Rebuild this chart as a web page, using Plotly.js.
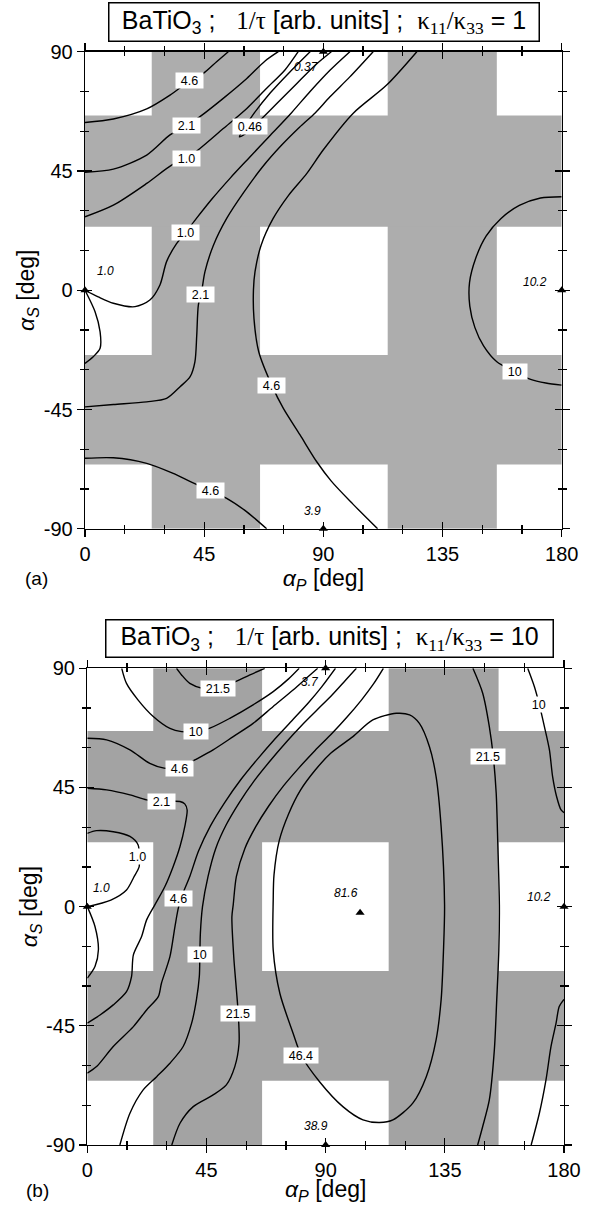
<!DOCTYPE html>
<html><head><meta charset="utf-8">
<script src="https://cdn.plot.ly/plotly-3.0.1.min.js"></script>
<style>html,body{margin:0;padding:0;background:#fff}</style>
</head><body><div id="chart" style="width:594px;height:1205px"></div>
<script>
// ---------- axis ticks ----------
const xTickVals = [0, 45, 90, 135, 180];
const xTickText = ['0', '45', '90', '135', '180'];
const yTickVals = [-90, -45, 0, 45, 90];
const yTickText = ['-90', '-45', '0', '45', '90'];
const xMinor = [15, 30, 60, 75, 105, 120, 150, 165];
const yMinor = [-75, -60, -30, -15, 15, 30, 60, 75];

// ---------- shaded bands [from, to] in degrees ----------
const aGrayCols = [[25.2, 66.1], [114.3, 155.5]];
const aGrayRows = [[-65.7, -24.4], [24.0, 65.9]];
const bGrayCols = [[24.9, 66.0], [113.8, 155.3]];
const bGrayRows = [[-65.7, -24.3], [24.3, 66.3]];

// ---------- panel (a) contour lines [alphaP, alphaS] ----------
const a_46_ul = [[0,63.3],[10.7,64.6],[23.3,68.4],[32.1,73.6],[39.5,79],[44.7,81.8],[49.7,86.2],[54.1,90]];
const a_21_ul = [[0,44.5],[10.7,45.7],[23.3,51],[32.1,58.6],[38.3,62],[43.4,65.5],[52.2,72.4],[61.1,79.9],[68,86.5],[73,90]];
const a_10_ul = [[0,27.7],[10.7,32.1],[23.3,40.3],[32.7,47.2],[38.2,49.7],[43.4,53.5],[52.2,61],[61.1,68.6],[68.6,76.2],[75.5,83.1],[80.5,90]];
const a_046 = [[85,90],[77,82],[70,74.5],[64,67],[60,61],[58.3,57.9],[60.5,59],[66,64],[73,71],[80,78],[87,85],[93,90]];
const a_10_r = [[0,0],[5,-2.5],[10.7,-4.9],[18.9,-6.2],[24.5,-3.7],[28.3,2],[30.8,10.8],[34.5,17.5],[38,21.8],[42,27],[48,34.5],[55,42.5],[62,50],[70,58.5],[78,67],[85,75],[92.5,83],[100,90]];
const a_10_loop = [[0,0],[3.8,-8.1],[5.7,-15.7],[5.7,-21.9],[3.1,-25.1],[0,-27.6]];
const a_21_r = [[0,-44],[10.7,-43.1],[23.3,-42.1],[30.8,-40.8],[35.9,-36.4],[39.7,-32.6],[41.5,-27],[42.2,-16.9],[42.8,-5.6],[44.1,0],[45.3,7],[48.5,17],[53.5,27.1],[60,37],[67,46.5],[74,54.5],[81,61.5],[87,67],[92.5,73],[100,80.5],[108.8,90]];
const a_46_r = [[125.3,90],[113.9,77.4],[101.3,66.8],[90,53],[83.7,44],[77,36],[71,27],[66.5,17],[64.2,7],[63.6,0],[63.8,-10.6],[65.6,-23.2],[70.5,-35.8],[74.9,-44.6],[81.2,-54.6],[87.5,-64.7],[93,-72],[101,-80.5],[110.5,-90]];
const a_46_ll = [[0,-63.4],[10.7,-63.2],[23.3,-65.3],[33.3,-69.1],[40,-72.3],[47.5,-75.7],[53.5,-78.5],[61.1,-83.6],[68.6,-90]];
const a_100 = [[180,35.3],[172,34.8],[164,32],[157,27],[151.5,20.5],[147.5,12],[145.2,3],[145.3,-6],[147.2,-14],[150.5,-21],[155.5,-27],[162.3,-30.8],[168,-33.5],[174,-35],[180,-35.8]];

// contour labels panel (a)
const aLabelText = ['4.6', '2.1', '1.0', '0.46', '1.0', '2.1', '4.6', '4.6', '10'];
const aLabelX    = [39.5, 38.3, 38.2, 62.2, 38.0, 43.5, 70.5, 47.5, 162.3];
const aLabelY    = [79.0, 62.0, 49.7, 61.9, 21.8, -1.5, -35.8, -75.7, -30.8];
// extremum values panel (a)
const aExtText = ['0.37', '1.0', '10.2', '3.9'];
const aExtX    = [83.7, 7.6, 169.9, 85.8];
const aExtY    = [84.3, 7.2, 3.2, -83.2];
const aMarkX   = [90, 0, 180, 90];
const aMarkY   = [90, 0, 0, -90];

// ---------- panel (b) contour lines ----------
const b_215_arc = [[33.7,90],[35.6,87.5],[38.7,84.3],[44,82.3],[49.5,82.5],[54.5,84.3],[61.4,87.5],[67,90]];
const b_100_ul = [[13,90],[14.8,84.3],[19.2,78],[24.9,71.8],[31.2,67.3],[35.6,66.1],[41,66.1],[46.3,67.4],[53.8,71.1],[62.6,76.2],[70.2,81.2],[76,86],[80,90]];
const b_46_ul = [[0,63.6],[7.3,63],[16.1,59.2],[23.6,54.1],[29,52.3],[34.7,52.3],[40.6,55.4],[47.5,59.2],[55.1,64.2],[62.6,69.2],[70.1,75.5],[77.7,81.8],[83,86.5],[87,90]];
const b_21 = [[0,44.7],[7.3,44.1],[16.1,42.2],[22.4,40.3],[28,39.7],[35,39.7],[36.8,38.8],[37.7,36.5],[36.8,30.2],[35,22.7],[32.4,15.1],[29.3,7.6],[25.5,0.7],[22.4,-5],[20.5,-11.3],[17.4,-18.2],[16.7,-26.4],[14.8,-32.1],[9.8,-37.1],[4.8,-40.9],[0,-44]];
const b_10_o = [[0,27.7],[3.5,28.7],[9.8,28.3],[16.1,26.5],[19.2,23.3],[19.6,18],[19.6,15.1],[17.5,11],[14.8,6.3],[8.9,2.5],[0,0]];
const b_10_loop = [[0,0],[2.9,-7.5],[4.2,-16.3],[2.9,-22.6],[0,-27]];
const b_46_lr = [[0,-62.9],[3.5,-60.4],[9.8,-52.8],[17.4,-45.3],[22.4,-39],[26.8,-34],[28,-28.9],[31.2,-18.9],[33.1,-7.5],[34.5,0],[36.5,6],[38.7,11.4],[42,21],[46.5,30.5],[52,39.5],[58,48],[64.5,56],[71,63.5],[77.5,70.5],[83.5,77],[88.5,83],[93.7,90]];
const b_100_lr = [[12.3,-90],[16.1,-78],[21.1,-69.2],[26.2,-64.2],[31.2,-59.1],[36.2,-52.8],[39.4,-44],[41.2,-35.2],[42.3,-26.4],[42.5,-18.2],[42.7,-10],[43.5,0],[45.6,11.4],[48.5,22],[52.5,31],[57.5,39.5],[63,47.5],[69,55],[75,62],[81,68.5],[87,74.5],[92.5,80],[97.5,85.5],[101.6,90]];
const b_215_lr = [[31.9,-90],[35,-81.8],[40,-75.5],[47.5,-71.1],[52.5,-67.3],[55.7,-60.4],[57.3,-51.6],[57,-40.5],[56.3,-31.4],[55.3,-18.9],[54.6,-3.8],[55.1,0.7],[56.3,11.4],[59.5,22],[63.5,30],[68.5,38],[74,45.5],[80,52.5],[86,59],[92,65],[98,71.5],[103.5,78],[108,84],[111.8,90]];
const b_464 = [[70.2,2.5],[70.5,12],[72.5,25],[76,35],[80.5,44],[86,51.5],[92,58],[100.3,64.2],[107.8,70.5],[116.7,73],[121.7,72.4],[125.4,69.2],[129.2,60.4],[131.7,49.1],[133.6,30.2],[134.9,0.7],[134.5,-16.4],[133.6,-35.2],[131.7,-50.3],[128,-64.2],[122.9,-74.2],[115.4,-80.5],[110.4,-81.5],[104.1,-80.5],[96.5,-75.5],[87.7,-66.1],[80.8,-56.2],[77.7,-47.8],[72.7,-32.7],[70.2,-16.4],[70.2,2.5]];
const b_215_r = [[145.6,90],[149.3,80.6],[151.8,68],[153.3,56.7],[154.4,42.8],[155,23.9],[155.6,0.7],[155.4,-16.4],[154.6,-35.2],[153.7,-54.1],[151.8,-73],[149.3,-83],[147.4,-90]];
const b_100_rt = [[166.3,90],[168.8,83.1],[170.7,76.2],[172.6,68],[174.5,59.2],[175.7,49.1],[177.2,41.6],[178.9,36.5],[180,35.5]];
const b_100_rb = [[167.6,-90],[170.7,-78],[173.2,-65.4],[175.1,-52.8],[177,-44],[178.2,-37.7],[180,-35]];

const bLabelText = ['21.5', '10', '4.6', '2.1', '1.0', '4.6', '10', '21.5', '46.4', '21.5', '10'];
const bLabelX    = [49.5, 41.0, 34.7, 28.1, 18.9, 34.5, 42.5, 57.0, 80.8, 151.2, 170.7];
const bLabelY    = [82.5, 66.1, 52.3, 39.7, 18.9, 3.2, -18.2, -40.5, -56.2, 56.7, 76.2];
const bExtText = ['3.7', '1.0', '81.6', '10.2', '38.9'];
const bExtX    = [84.0, 5.4, 97.8, 170.7, 86.5];
const bExtY    = [85.0, 7.0, 5.0, 3.8, -83.0];
const bMarkX   = [90, 0, 180, 90, 103];
const bMarkY   = [90, 0, 0, -90, -2.3];

// ---------- build ----------
const FONT = 'Liberation Sans, Arial, Helvetica, sans-serif';
const SERIF = 'Liberation Serif, Times New Roman, serif';
const traces = [];
function addLine(pts, xa, ya) {
  traces.push({x: pts.map(p => p[0]), y: pts.map(p => p[1]), xaxis: xa, yaxis: ya,
    mode: 'lines', line: {color: '#000', width: 1.4, shape: 'spline', smoothing: 0.8},
    hoverinfo: 'skip', showlegend: false});
}
[a_46_ul, a_21_ul, a_10_ul, a_046, a_10_r, a_10_loop, a_21_r, a_46_r, a_46_ll, a_100].forEach(p => addLine(p, 'x', 'y'));
[b_215_arc, b_100_ul, b_46_ul, b_21, b_10_o, b_10_loop, b_46_lr, b_100_lr, b_215_lr, b_464, b_215_r, b_100_rt, b_100_rb].forEach(p => addLine(p, 'x2', 'y2'));
traces.push({x: aMarkX, y: aMarkY, xaxis: 'x', yaxis: 'y', mode: 'markers', cliponaxis: false,
  marker: {symbol: 'triangle-up', size: 8, color: '#000'}, hoverinfo: 'skip', showlegend: false});
traces.push({x: bMarkX, y: bMarkY, xaxis: 'x2', yaxis: 'y2', mode: 'markers', cliponaxis: false,
  marker: {symbol: 'triangle-up', size: 8, color: '#000'}, hoverinfo: 'skip', showlegend: false});
// overlay axes carry the inward half of the crossing ticks
traces.push({x: [null], y: [null], xaxis: 'x3', yaxis: 'y3', mode: 'markers', showlegend: false, hoverinfo: 'skip'});
traces.push({x: [null], y: [null], xaxis: 'x4', yaxis: 'y4', mode: 'markers', showlegend: false, hoverinfo: 'skip'});

const shapes = [];
function addBands(cols, rows, xr, yr, color) {
  cols.forEach(c => shapes.push({type: 'rect', xref: xr, yref: yr, x0: c[0], x1: c[1], y0: -90, y1: 90,
    fillcolor: color, line: {width: 0}, layer: 'below'}));
  rows.forEach(r => shapes.push({type: 'rect', xref: xr, yref: yr, x0: 0, x1: 180, y0: r[0], y1: r[1],
    fillcolor: color, line: {width: 0}, layer: 'below'}));
}
addBands(aGrayCols, aGrayRows, 'x', 'y', '#adadad');
addBands(bGrayCols, bGrayRows, 'x2', 'y2', '#a3a3a3');

const annotations = [];
function boxWidth(t) { let w = 10; for (const ch of t) w += (ch === '.') ? 3.4 : 6.8; return w; }
function addLabels(txt, xs, ys, xr, yr) {
  txt.forEach((t, i) => annotations.push({x: xs[i], y: ys[i], xref: xr, yref: yr, text: t, showarrow: false,
    xanchor: 'center', yanchor: 'middle',
    bgcolor: '#fff', borderpad: 0, width: boxWidth(t), height: 15, font: {family: FONT, size: 12.5, color: '#000'}}));
}
function addExt(txt, xs, ys, xr, yr) {
  txt.forEach((t, i) => annotations.push({x: xs[i], y: ys[i], xref: xr, yref: yr, text: '<i>' + t + '</i>',
    xanchor: 'center', yanchor: 'middle',
    showarrow: false, font: {family: FONT, size: 12, color: '#000'}}));
}
addLabels(aLabelText, aLabelX, aLabelY, 'x', 'y');
addLabels(bLabelText, bLabelX, bLabelY, 'x2', 'y2');
addExt(aExtText, aExtX, aExtY, 'x', 'y');
addExt(bExtText, bExtX, bExtY, 'x2', 'y2');

function titleText(k) {
  return 'BaTiO<sub>3</sub> ;\u00a0\u00a0\u00a0<span style="font-family:' + SERIF + '">1/τ</span> [arb. units] ;\u00a0\u00a0' +
    '<span style="font-family:' + SERIF + '">κ<sub>11</sub>/κ<sub>33</sub></span> = ' + k;
}
annotations.push({xref: 'paper', yref: 'paper', x: 323.8 / 594, y: 1 - 22 / 1205, xanchor: 'center', yanchor: 'middle',
  text: titleText('1'), showarrow: false, bgcolor: '#fff', bordercolor: '#000', borderwidth: 1.5, borderpad: 1,
  width: 427, height: 35, font: {family: FONT, size: 25, color: '#000'}});
annotations.push({xref: 'paper', yref: 'paper', x: 329.5 / 594, y: 1 - 638.5 / 1205, xanchor: 'center', yanchor: 'middle',
  text: titleText('10'), showarrow: false, bgcolor: '#fff', bordercolor: '#000', borderwidth: 1.5, borderpad: 1,
  width: 444, height: 34, font: {family: FONT, size: 25, color: '#000'}});
annotations.push({xref: 'paper', yref: 'paper', x: 36.5 / 594, y: 1 - 578 / 1205, xanchor: 'center', yanchor: 'middle',
  text: '(a)', showarrow: false, font: {family: FONT, size: 19, color: '#000'}});
annotations.push({xref: 'paper', yref: 'paper', x: 37 / 594, y: 1 - 1190 / 1205, xanchor: 'center', yanchor: 'middle',
  text: '(b)', showarrow: false, font: {family: FONT, size: 19, color: '#000'}});

function xAxis(domain, anchor, inner, overlay) {
  const ax = {domain: domain, anchor: anchor, range: [0, 180], showgrid: false, zeroline: false,
    showline: true, linecolor: '#000', linewidth: 1.3, mirror: 'allticks',
    ticks: inner ? 'inside' : 'outside', ticklen: 7, tickwidth: 1.3, tickcolor: '#000',
    tickmode: 'array', tickvals: xTickVals, ticktext: xTickText, showticklabels: !inner,
    minor: {tickmode: 'array', tickvals: xMinor, ticks: inner ? 'inside' : 'outside', ticklen: 4, tickwidth: 1.2, tickcolor: '#000', showgrid: false},
    tickfont: {family: FONT, size: 20, color: '#000'}, fixedrange: true};
  if (overlay) ax.overlaying = overlay;
  if (!inner) ax.title = {text: '<i>α</i><sub><i>P</i></sub> [deg]', font: {family: FONT, size: 23, color: '#000'}, standoff: 4};
  return ax;
}
function yAxis(domain, anchor, inner, overlay) {
  const ax = {domain: domain, anchor: anchor, range: [-90, 90], showgrid: false, zeroline: false,
    showline: true, linecolor: '#000', linewidth: 1.3, mirror: 'allticks',
    ticks: inner ? 'inside' : 'outside', ticklen: 7, tickwidth: 1.3, tickcolor: '#000',
    tickmode: 'array', tickvals: yTickVals, ticktext: yTickText, showticklabels: !inner,
    minor: {tickmode: 'array', tickvals: yMinor, ticks: inner ? 'inside' : 'outside', ticklen: 4, tickwidth: 1.2, tickcolor: '#000', showgrid: false},
    tickfont: {family: FONT, size: 20, color: '#000'}, fixedrange: true};
  if (overlay) ax.overlaying = overlay;
  if (!inner) ax.title = {text: '<i>α</i><sub><i>S</i></sub> [deg]', font: {family: FONT, size: 23, color: '#000'}, standoff: 2};
  return ax;
}
const axA_x = [85 / 594, 561.7 / 594], axA_y = [1 - 528.8 / 1205, 1 - 51.7 / 1205];
const axB_x = [87.3 / 594, 564 / 594], axB_y = [1 - 1145 / 1205, 1 - 668.3 / 1205];

const layout = {
  width: 594, height: 1205, margin: {l: 0, r: 0, t: 0, b: 0},
  paper_bgcolor: '#fff', plot_bgcolor: '#fff', showlegend: false,
  xaxis: xAxis(axA_x, 'y', false), yaxis: yAxis(axA_y, 'x', false),
  xaxis2: xAxis(axB_x, 'y2', false), yaxis2: yAxis(axB_y, 'x2', false),
  xaxis3: xAxis(axA_x, 'y3', true, 'x'), yaxis3: yAxis(axA_y, 'x3', true, 'y'),
  xaxis4: xAxis(axB_x, 'y4', true, 'x2'), yaxis4: yAxis(axB_y, 'x4', true, 'y2'),
  shapes: shapes, annotations: annotations
};
Plotly.newPlot('chart', traces, layout, {displayModeBar: false, staticPlot: true});
</script></body></html>
